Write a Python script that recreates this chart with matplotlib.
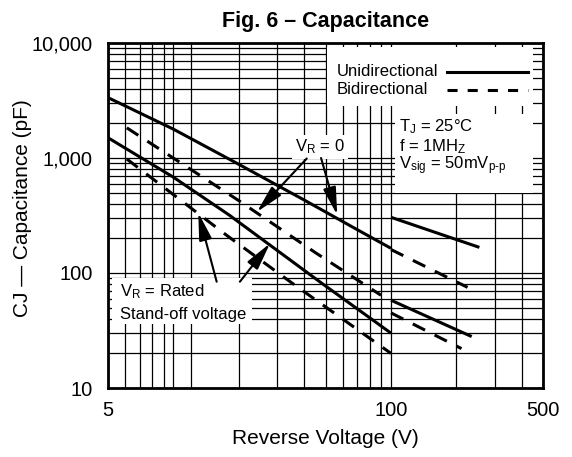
import matplotlib
matplotlib.use('Agg')
import matplotlib.pyplot as plt
from matplotlib.patches import Rectangle
from matplotlib.ticker import NullFormatter

plt.rcParams['font.family'] = ['Liberation Sans', 'DejaVu Sans']
plt.rcParams['mathtext.fontset'] = 'custom'
plt.rcParams['mathtext.rm'] = 'Liberation Sans'
plt.rcParams['mathtext.it'] = 'Liberation Sans'

# curve data (V in volts, C in pF)
uni_v0_v = [5, 10, 20, 40, 70, 100]
uni_v0_c = [3350, 1780, 880, 430, 238, 164]
uni_v0_hi_v = [100, 255]
uni_v0_hi_c = [305, 167]

uni_rated_v = [5, 10, 18, 47, 100]
uni_rated_c = [1500, 680, 320, 84, 30]
uni_rated_hi_v = [100, 235]
uni_rated_hi_c = [58, 28]

bi_v0_v = [6.1, 20, 45, 90]
bi_v0_c = [1830, 425, 150, 64]
bi_v0_hi_v = [100, 225]
bi_v0_hi_c = [160, 75]

bi_rated_v = [6.1, 17.6, 35, 100]
bi_rated_c = [980, 212, 82, 20]
bi_rated_hi_v = [100, 211]
bi_rated_hi_c = [45, 22]

x_ticks = [5, 100, 500]
x_labels = ['5', '100', '500']
x_grid = [6, 7, 8, 9, 10, 12, 20, 30, 40, 50, 60, 70, 80, 90, 200, 300, 400]
y_ticks = [10, 100, 1000, 10000]
y_labels = ['10', '100', '1,000', '10,000']
y_grid = [m * d for d in (10, 100, 1000) for m in range(2, 10)]

fig = plt.figure(figsize=(5.72, 4.57), dpi=100)
ax = fig.add_axes([108 / 572, 1 - 388 / 457, 435 / 572, 345 / 457])
ax.set_xscale('log')
ax.set_yscale('log')
ax.set_xlim(5, 500)
ax.set_ylim(10, 10000)

ax.set_xticks(x_ticks, labels=x_labels)
ax.set_xticks(x_grid, minor=True)
ax.set_yticks(y_ticks, labels=y_labels)
ax.set_yticks(y_grid, minor=True)
ax.xaxis.set_minor_formatter(NullFormatter())
ax.yaxis.set_minor_formatter(NullFormatter())
ax.tick_params(which='both', length=0, labelsize=14.5)
ax.tick_params(axis='x', pad=9.5)
ax.tick_params(axis='y', pad=11)
ax.set_axisbelow(True)
ax.grid(which='both', color='black', lw=0.9)
for s in ax.spines.values():
    s.set_linewidth(2)

# white boxes behind the annotations
for (x0, y0, x1, y1) in [(327, 47, 533, 106), (395, 114, 533, 193), (112, 278, 252, 324)]:
    ax.add_patch(Rectangle(((x0 - 108) / 435, (388 - y1) / 345), (x1 - x0) / 435, (y1 - y0) / 345,
                           transform=ax.transAxes, facecolor='white', edgecolor='none', zorder=1))

solid = dict(color='black', lw=2.2, solid_capstyle='butt')
dashed = dict(color='black', lw=2.2, ls=(0, (4.5, 3.5)), dash_capstyle='butt')
ax.plot(uni_v0_v, uni_v0_c, **solid)
ax.plot(uni_v0_hi_v, uni_v0_hi_c, **solid)
ax.plot(uni_rated_v, uni_rated_c, **solid)
ax.plot(uni_rated_hi_v, uni_rated_hi_c, **solid)
ax.plot(bi_v0_v, bi_v0_c, **dashed)
ax.plot(bi_v0_hi_v, bi_v0_hi_c, **dashed)
ax.plot(bi_rated_v, bi_rated_c, **dashed)
ax.plot(bi_rated_hi_v, bi_rated_hi_c, **dashed)

# legend key
ax.text(0.526, 0.916, 'Unidirectional', fontsize=12, va='center', transform=ax.transAxes)
ax.text(0.526, 0.864, 'Bidirectional', fontsize=12, va='center', transform=ax.transAxes)
ax.plot([0.779, 0.966], [0.916, 0.916], transform=ax.transAxes, color='black', lw=2.2)
ax.plot([0.779, 0.966], [0.864, 0.864], transform=ax.transAxes, color='black', lw=2.2,
        ls=(0, (3.3, 3.3)))

# conditions
ax.text(0.669, 0.757, r'T$_\mathregular{J}$ = 25°C', fontsize=12, va='center', transform=ax.transAxes)
ax.text(0.669, 0.701, r'f = 1MH$_\mathregular{Z}$', fontsize=12, va='center', transform=ax.transAxes)
ax.text(0.669, 0.643, r'V$_\mathregular{sig}$ = 50mV$_\text{p-p}$', fontsize=12, va='center',
        transform=ax.transAxes)

# V_R labels and arrows
ax.text(0.487, 0.699, r'V$_\mathregular{R}$ = 0', fontsize=12, ha='center', va='center',
        transform=ax.transAxes, bbox=dict(facecolor='white', edgecolor='none', pad=2))
ax.text(0.0276, 0.278, r'V$_\mathregular{R}$ = Rated', fontsize=12, va='center', transform=ax.transAxes)
ax.text(0.0276, 0.214, 'Stand-off voltage', fontsize=12, va='center', transform=ax.transAxes)

arrow = dict(arrowstyle='-|>,head_length=1.2,head_width=0.28', color='black', lw=1.5,
             mutation_scale=14, shrinkA=0, shrinkB=0)
ax.annotate('', xy=(24.2, 340), xytext=(41, 990), arrowprops=arrow)
ax.annotate('', xy=(56.6, 320), xytext=(47.7, 1000), arrowprops=arrow)
ax.annotate('', xy=(13.0, 335), xytext=(15.8, 84), arrowprops=arrow)
ax.annotate('', xy=(27.8, 181), xytext=(20.2, 84), arrowprops=arrow)

ax.set_title('Fig. 6 – Capacitance', fontsize=15.5, fontweight='bold', y=(388 - 21) / 345,
             va='center', pad=0)
ax.set_xlabel('Reverse Voltage (V)', fontsize=15)
ax.xaxis.label.set_va('center')
ax.xaxis.set_label_coords(0.5, (388 - 438) / 345)
ax.set_ylabel('CJ — Capacitance (pF)', fontsize=15)
ax.yaxis.label.set_va('center')
ax.yaxis.set_label_coords((22.5 - 108) / 435, (388 - 208) / 345)

fig.savefig('out.png', dpi=100)
